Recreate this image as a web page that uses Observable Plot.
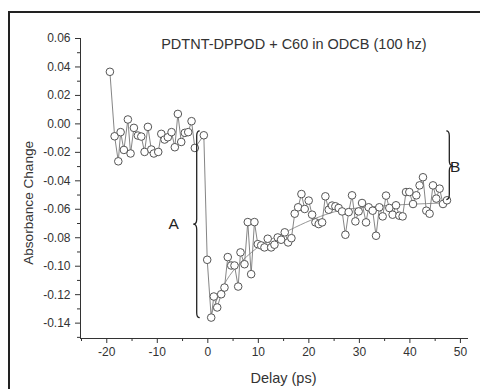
<!DOCTYPE html>
<html><head><meta charset="utf-8">
<script src="https://cdn.jsdelivr.net/npm/d3@7"></script>
<script src="https://cdn.jsdelivr.net/npm/@observablehq/plot@0.6"></script>
<style>
html,body{margin:0;padding:0;background:#fff;}
#wrap{position:relative;width:480px;height:389px;overflow:hidden;}
#frame{position:absolute;left:7.5px;top:10.5px;width:520px;height:420px;border-left:2.6px solid #222;border-top:2.6px solid #222;pointer-events:none;}
svg{display:block}
</style></head><body><div id="wrap"><div id="chart"></div><div id="frame"></div></div>
<script>
// Measured delays (ps)
const delay = [-19.38,-18.45,-17.72,-17.26,-16.61,-15.82,-15.29,-14.63,-13.84,-13.17,-12.52,-11.86,-11.19,-10.68,-9.81,-9.21,-8.56,-7.91,-7.18,-6.53,-5.93,-5.26,-4.55,-3.88,-3.22,-2.57,-0.79,
 -0.12,0.67,1.19,1.86,2.65,3.30,3.95,4.63,5.28,6.01,6.47,7.26,7.91,8.58,9.23,9.89,10.56,11.21,11.86,12.54,13.19,13.84,14.51,15.23,15.90,16.55,17.20,17.88,18.53,19.18,19.97,20.64,21.30,21.95,22.62,23.27,23.93,24.60,25.25,25.90,26.58,27.23,27.88,28.55,29.21,29.86,30.53,31.32,31.84,32.63,33.30,33.95,34.61,35.28,35.93,36.58,37.25,37.91,38.56,39.23,39.89,40.62,41.27,41.92,42.59,43.25,43.90,44.57,45.22,45.88,46.55,47.34];
// Absorbance change
const absorbance = [0.0366,-0.0087,-0.0263,-0.0058,-0.0183,0.0031,-0.0208,-0.0028,-0.0082,-0.0089,-0.0197,-0.0021,-0.0180,-0.0208,-0.0197,-0.0070,-0.0110,-0.0094,-0.0058,-0.0164,0.0070,-0.0127,-0.0063,-0.0058,0.0019,-0.0169,-0.0080,
 -0.0955,-0.1361,-0.1213,-0.1290,-0.1197,-0.1150,-0.0936,-0.0995,-0.0995,-0.1143,-0.0903,-0.0986,-0.0690,-0.1056,-0.0690,-0.0845,-0.0854,-0.0868,-0.0807,-0.0868,-0.0849,-0.0798,-0.0814,-0.0762,-0.0833,-0.0803,-0.0631,-0.0586,-0.0493,-0.0598,-0.0539,-0.0638,-0.0692,-0.0704,-0.0692,-0.0509,-0.0603,-0.0574,-0.0579,-0.0591,-0.0615,-0.0779,-0.0620,-0.0502,-0.0685,-0.0615,-0.0556,-0.0692,-0.0586,-0.0610,-0.0786,-0.0586,-0.0650,-0.0504,-0.0591,-0.0638,-0.0572,-0.0645,-0.0650,-0.0479,-0.0479,-0.0563,-0.0502,-0.0432,-0.0375,-0.0610,-0.0631,-0.0432,-0.0525,-0.0455,-0.0563,-0.0537];
// Fitted curve
const fitDelay = [0.6,1.5,3.2,5.8,9.8,13.7,18.3,22.3,26,30,35,40,47];
const fitAbs = [-0.135,-0.126,-0.113,-0.100,-0.087,-0.079,-0.071,-0.065,-0.061,-0.059,-0.0575,-0.0565,-0.0555];

const xTicks = [-20,-10,0,10,20,30,40,50];
const xMinorTicks = [-25,-15,-5,5,15,25,35,45];
const yTicks = [0.06,0.04,0.02,0.00,-0.02,-0.04,-0.06,-0.08,-0.10,-0.12,-0.14];
const yMinorTicks = [0.05,0.03,0.01,-0.01,-0.03,-0.05,-0.07,-0.09,-0.11,-0.13,-0.15];
const xDomain = [-25.2, 51.6];
const yDomain = [-0.1508, 0.06];

const titleText = ["PDTNT-DPPOD + C60 in ODCB (100 hz)"];
const titleX = [17.05], titleY = [0.0561];
const axisLabelText = ["Delay (ps)", "Absorbance Change"];
const axisLabelX = [14.97, -35.5];
const axisLabelY = [-0.1790, -0.0555];
const axisLabelRotate = [0, -90];
const axisLabelSize = [14.5, 13.6];
const braceLabels = ["A","B"];
const braceLabelX = [-6.76, 48.95];
const braceLabelY = [-0.0704, -0.0303];
const braceX = [-2.1, 47.9];
const braceTop = [-0.0052, -0.0052];
const braceBottom = [-0.1365, -0.0535];
const braceMid = [-0.0708, -0.0298];
const braceDir = [-1, 1];

const points = delay.map((t, i) => ({t, v: absorbance[i]}));
const fit = fitDelay.map((t, i) => ({t, v: fitAbs[i]}));
const titles = titleText.map((s, i) => ({s, x: titleX[i], y: titleY[i]}));
const axisLabels = axisLabelText.map((s, i) => ({s, x: axisLabelX[i], y: axisLabelY[i], r: axisLabelRotate[i], f: axisLabelSize[i]}));
const labels = braceLabels.map((s, i) => ({s, x: braceLabelX[i], y: braceLabelY[i], anchor: i === 0 ? "middle" : "start"}));

const font = "'Liberation Sans', Arial, Helvetica, sans-serif";
const ink = "#333";

const chart = Plot.plot({
  width: 480, height: 389,
  marginLeft: 80, marginRight: 12, marginTop: 38, marginBottom: 51,
  style: {fontFamily: font, color: ink, background: "white", overflow: "visible"},
  x: {domain: xDomain},
  y: {domain: yDomain},
  marks: [
    Plot.ruleX([xDomain[0]], {stroke: ink, strokeWidth: 1}),
    Plot.ruleY([yDomain[0]], {stroke: ink, strokeWidth: 1}),
    Plot.axisX({ticks: xMinorTicks, tickSize: 3, tickFormat: () => "", label: null, stroke: ink}),
    Plot.axisX({ticks: xTicks, tickSize: 5, tickPadding: 4, tickFormat: d => String(d), fontSize: 12, label: null, stroke: ink, fill: ink}),
    Plot.axisY({ticks: yMinorTicks, tickSize: 3, tickFormat: () => "", label: null, stroke: ink}),
    Plot.axisY({ticks: yTicks, tickSize: 5, tickPadding: 5, tickFormat: d => d.toFixed(2), fontSize: 12, label: null, stroke: ink, fill: ink}),
    Plot.text(axisLabels.filter(d => d.r === 0), {x: "x", y: "y", text: "s", fontSize: axisLabelSize[0], fill: ink, lineAnchor: "middle", clip: false}),
    Plot.text(axisLabels.filter(d => d.r !== 0), {x: "x", y: "y", text: "s", rotate: -90, fontSize: axisLabelSize[1], fill: ink, lineAnchor: "middle", clip: false}),
    Plot.text(titles, {x: "x", y: "y", text: "s", fontSize: 14.5, fill: ink, lineAnchor: "middle"}),
    Plot.line(fit, {x: "t", y: "v", curve: "natural", stroke: "#8a8a8a", strokeWidth: 0.9}),
    Plot.line(points, {x: "t", y: "v", stroke: "#777", strokeWidth: 0.9}),
    Plot.dot(points, {x: "t", y: "v", r: 3.8, fill: "white", stroke: "#555", strokeWidth: 1}),
    Plot.text(labels, {x: "x", y: "y", text: "s", textAnchor: "anchor", fontSize: 15.5, fill: "#222", lineAnchor: "middle"})
  ]
});

// Curly braces placed with the plot's own scales
const sx = chart.scale("x"), sy = chart.scale("y");
const svg = d3.select(chart);
braceX.forEach((bx, i) => {
  const x0 = sx.apply(bx), y1 = sy.apply(braceTop[i]), y2 = sy.apply(braceBottom[i]), ym = sy.apply(braceMid[i]);
  const d = braceDir[i], w = 3.5, c = 3, r = 5;
  const p = `M${x0 - d * c},${y1} Q${x0},${y1} ${x0},${y1 + r} L${x0},${ym - r} Q${x0},${ym} ${x0 + d * w},${ym} Q${x0},${ym} ${x0},${ym + r} L${x0},${y2 - r} Q${x0},${y2} ${x0 - d * c},${y2}`;
  svg.append("path").attr("d", p).attr("fill", "none").attr("stroke", "#222").attr("stroke-width", 1.3);
});

document.getElementById("chart").appendChild(chart);
</script></body></html>
